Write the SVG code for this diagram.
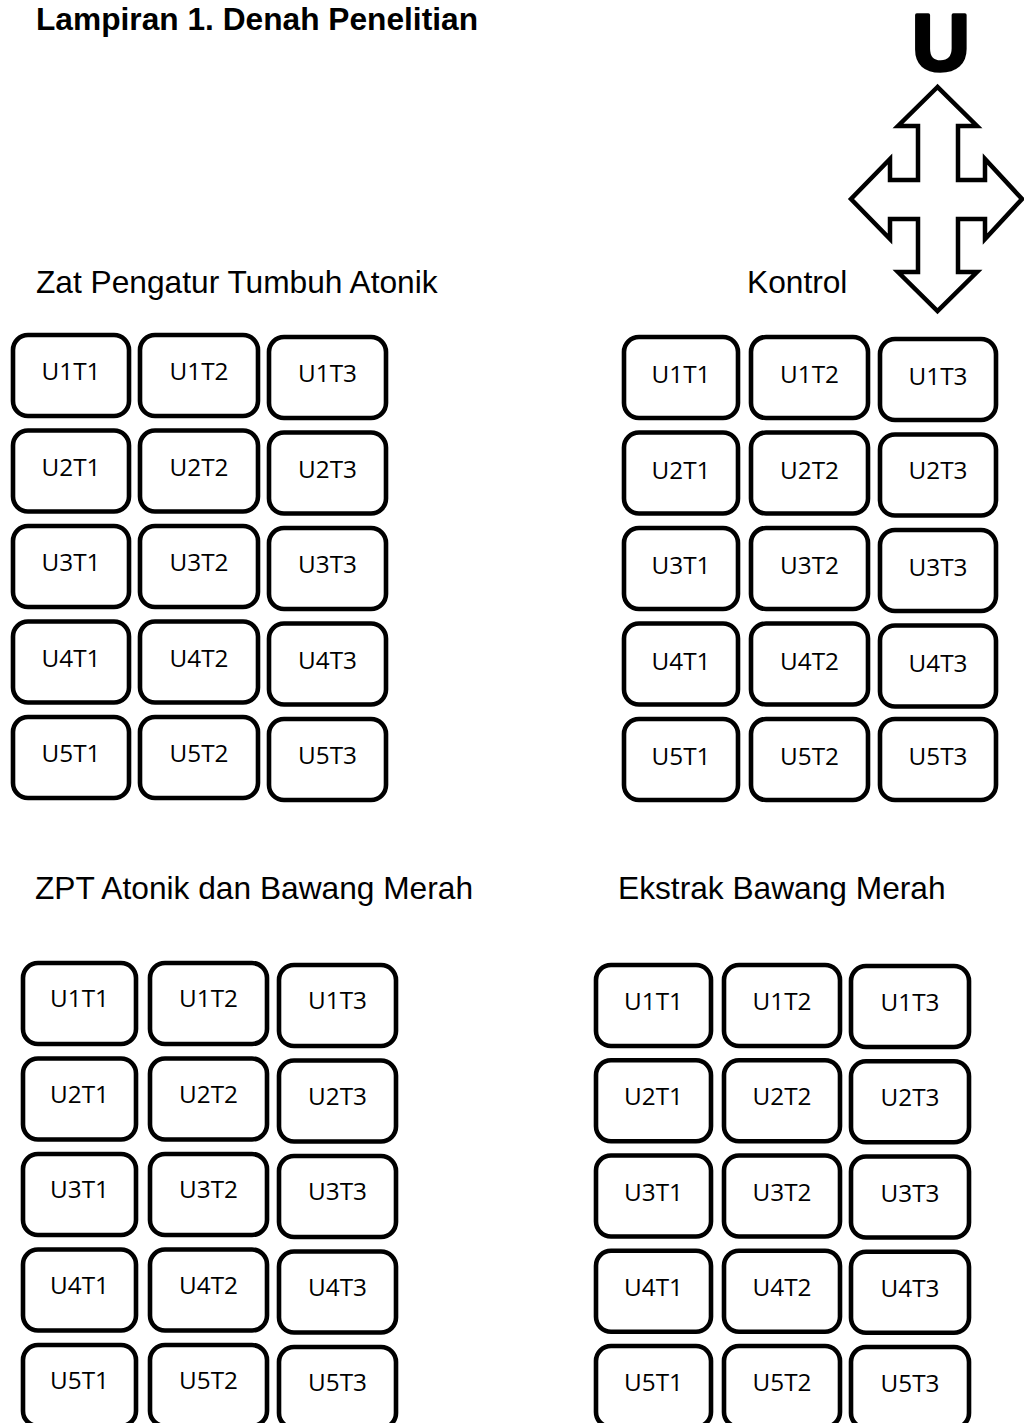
<svg xmlns="http://www.w3.org/2000/svg" width="1024" height="1423" viewBox="0 0 1024 1423">
<style>
.box{fill:#fff;stroke:#000;stroke-width:4.6}
.lbl{font-family:"Open Sans","Noto Sans",sans-serif;font-size:24.3px;fill:#000;text-anchor:middle}
.hd{font-family:"Liberation Sans",Arial,sans-serif;font-size:31.7px;fill:#000}
.ttl{font-family:"Liberation Sans",Arial,sans-serif;font-size:31.7px;font-weight:bold;fill:#000}
</style>
<rect width="1024" height="1423" fill="#fff"/>
<text class="ttl" x="36" y="30">Lampiran 1. Denah Penelitian</text>
<g id="compass">
<text x="941" y="70" text-anchor="middle" style="font-family:'Liberation Sans',Arial,sans-serif;font-weight:bold;font-size:80px;fill:#000;stroke:#000;stroke-width:3.5;stroke-linejoin:round">U</text>
<polygon points="937.5,87 898,126 918,126 918,180 890,180 890,159 851,199 890,239 890,219 918,219 918,272 898,272 937.5,311 977,272 958,272 958,219 985,219 985,239 1022,199 985,159 985,180 958,180 958,126 977,126" fill="#fff" stroke="#000" stroke-width="4.5" stroke-linejoin="miter"/>
</g>
<text class="hd" x="36" y="293">Zat Pengatur Tumbuh Atonik</text>
<text class="hd" x="747" y="293">Kontrol</text>
<text class="hd" x="35" y="899">ZPT Atonik dan Bawang Merah</text>
<text class="hd" x="618" y="899">Ekstrak Bawang Merah</text>
<g id="connectors"></g>
<g id="gridA">
<g id="A-U1T1"><rect class="box" x="13" y="335" width="116" height="81" rx="15"/><text class="lbl" x="71" y="380">U1T1</text></g>
<g id="A-U1T2"><rect class="box" x="140" y="335" width="118" height="81" rx="15"/><text class="lbl" x="199" y="380">U1T2</text></g>
<g id="A-U1T3"><rect class="box" x="269" y="337" width="117" height="81" rx="15"/><text class="lbl" x="327.5" y="382">U1T3</text></g>
<g id="A-U2T1"><rect class="box" x="13" y="430.5" width="116" height="81" rx="15"/><text class="lbl" x="71" y="475.5">U2T1</text></g>
<g id="A-U2T2"><rect class="box" x="140" y="430.5" width="118" height="81" rx="15"/><text class="lbl" x="199" y="475.5">U2T2</text></g>
<g id="A-U2T3"><rect class="box" x="269" y="432.5" width="117" height="81" rx="15"/><text class="lbl" x="327.5" y="477.5">U2T3</text></g>
<g id="A-U3T1"><rect class="box" x="13" y="526" width="116" height="81" rx="15"/><text class="lbl" x="71" y="571">U3T1</text></g>
<g id="A-U3T2"><rect class="box" x="140" y="526" width="118" height="81" rx="15"/><text class="lbl" x="199" y="571">U3T2</text></g>
<g id="A-U3T3"><rect class="box" x="269" y="528" width="117" height="81" rx="15"/><text class="lbl" x="327.5" y="573">U3T3</text></g>
<g id="A-U4T1"><rect class="box" x="13" y="621.5" width="116" height="81" rx="15"/><text class="lbl" x="71" y="666.5">U4T1</text></g>
<g id="A-U4T2"><rect class="box" x="140" y="621.5" width="118" height="81" rx="15"/><text class="lbl" x="199" y="666.5">U4T2</text></g>
<g id="A-U4T3"><rect class="box" x="269" y="623.5" width="117" height="81" rx="15"/><text class="lbl" x="327.5" y="668.5">U4T3</text></g>
<g id="A-U5T1"><rect class="box" x="13" y="717" width="116" height="81" rx="15"/><text class="lbl" x="71" y="762">U5T1</text></g>
<g id="A-U5T2"><rect class="box" x="140" y="717" width="118" height="81" rx="15"/><text class="lbl" x="199" y="762">U5T2</text></g>
<g id="A-U5T3"><rect class="box" x="269" y="719" width="117" height="81" rx="15"/><text class="lbl" x="327.5" y="764">U5T3</text></g>
</g>
<g id="gridB">
<g id="B-U1T1"><rect class="box" x="624" y="337" width="114" height="81" rx="15"/><text class="lbl" x="681" y="383">U1T1</text></g>
<g id="B-U1T2"><rect class="box" x="751" y="337" width="117" height="81" rx="15"/><text class="lbl" x="809.5" y="383">U1T2</text></g>
<g id="B-U1T3"><rect class="box" x="880" y="339" width="116" height="81" rx="15"/><text class="lbl" x="938" y="385">U1T3</text></g>
<g id="B-U2T1"><rect class="box" x="624" y="432.5" width="114" height="81" rx="15"/><text class="lbl" x="681" y="478.5">U2T1</text></g>
<g id="B-U2T2"><rect class="box" x="751" y="432.5" width="117" height="81" rx="15"/><text class="lbl" x="809.5" y="478.5">U2T2</text></g>
<g id="B-U2T3"><rect class="box" x="880" y="434.5" width="116" height="81" rx="15"/><text class="lbl" x="938" y="478.5">U2T3</text></g>
<g id="B-U3T1"><rect class="box" x="624" y="528" width="114" height="81" rx="15"/><text class="lbl" x="681" y="574">U3T1</text></g>
<g id="B-U3T2"><rect class="box" x="751" y="528" width="117" height="81" rx="15"/><text class="lbl" x="809.5" y="574">U3T2</text></g>
<g id="B-U3T3"><rect class="box" x="880" y="530" width="116" height="81" rx="15"/><text class="lbl" x="938" y="576">U3T3</text></g>
<g id="B-U4T1"><rect class="box" x="624" y="623.5" width="114" height="81" rx="15"/><text class="lbl" x="681" y="669.5">U4T1</text></g>
<g id="B-U4T2"><rect class="box" x="751" y="623.5" width="117" height="81" rx="15"/><text class="lbl" x="809.5" y="669.5">U4T2</text></g>
<g id="B-U4T3"><rect class="box" x="880" y="625.5" width="116" height="81" rx="15"/><text class="lbl" x="938" y="671.5">U4T3</text></g>
<g id="B-U5T1"><rect class="box" x="624" y="719" width="114" height="81" rx="15"/><text class="lbl" x="681" y="765">U5T1</text></g>
<g id="B-U5T2"><rect class="box" x="751" y="719" width="117" height="81" rx="15"/><text class="lbl" x="809.5" y="765">U5T2</text></g>
<g id="B-U5T3"><rect class="box" x="880" y="719" width="116" height="81" rx="15"/><text class="lbl" x="938" y="765">U5T3</text></g>
</g>
<g id="gridC">
<g id="C-U1T1"><rect class="box" x="23" y="963" width="113" height="81" rx="15"/><text class="lbl" x="79.5" y="1007">U1T1</text></g>
<g id="C-U1T2"><rect class="box" x="150" y="963" width="117" height="81" rx="15"/><text class="lbl" x="208.5" y="1007">U1T2</text></g>
<g id="C-U1T3"><rect class="box" x="279" y="965" width="117" height="81" rx="15"/><text class="lbl" x="337.5" y="1009">U1T3</text></g>
<g id="C-U2T1"><rect class="box" x="23" y="1058.5" width="113" height="81" rx="15"/><text class="lbl" x="79.5" y="1102.5">U2T1</text></g>
<g id="C-U2T2"><rect class="box" x="150" y="1058.5" width="117" height="81" rx="15"/><text class="lbl" x="208.5" y="1102.5">U2T2</text></g>
<g id="C-U2T3"><rect class="box" x="279" y="1060.5" width="117" height="81" rx="15"/><text class="lbl" x="337.5" y="1104.5">U2T3</text></g>
<g id="C-U3T1"><rect class="box" x="23" y="1154" width="113" height="81" rx="15"/><text class="lbl" x="79.5" y="1198">U3T1</text></g>
<g id="C-U3T2"><rect class="box" x="150" y="1154" width="117" height="81" rx="15"/><text class="lbl" x="208.5" y="1198">U3T2</text></g>
<g id="C-U3T3"><rect class="box" x="279" y="1156" width="117" height="81" rx="15"/><text class="lbl" x="337.5" y="1200">U3T3</text></g>
<g id="C-U4T1"><rect class="box" x="23" y="1249.5" width="113" height="81" rx="15"/><text class="lbl" x="79.5" y="1293.5">U4T1</text></g>
<g id="C-U4T2"><rect class="box" x="150" y="1249.5" width="117" height="81" rx="15"/><text class="lbl" x="208.5" y="1293.5">U4T2</text></g>
<g id="C-U4T3"><rect class="box" x="279" y="1251.5" width="117" height="81" rx="15"/><text class="lbl" x="337.5" y="1295.5">U4T3</text></g>
<g id="C-U5T1"><rect class="box" x="23" y="1345" width="113" height="81" rx="15"/><text class="lbl" x="79.5" y="1389">U5T1</text></g>
<g id="C-U5T2"><rect class="box" x="150" y="1345" width="117" height="81" rx="15"/><text class="lbl" x="208.5" y="1389">U5T2</text></g>
<g id="C-U5T3"><rect class="box" x="279" y="1347" width="117" height="81" rx="15"/><text class="lbl" x="337.5" y="1391">U5T3</text></g>
</g>
<g id="gridD">
<g id="D-U1T1"><rect class="box" x="596" y="965" width="115" height="81" rx="15"/><text class="lbl" x="653.5" y="1010">U1T1</text></g>
<g id="D-U1T2"><rect class="box" x="724" y="965" width="116" height="81" rx="15"/><text class="lbl" x="782" y="1010">U1T2</text></g>
<g id="D-U1T3"><rect class="box" x="851" y="966" width="118" height="81" rx="15"/><text class="lbl" x="910" y="1011">U1T3</text></g>
<g id="D-U2T1"><rect class="box" x="596" y="1060.25" width="115" height="81" rx="15"/><text class="lbl" x="653.5" y="1105.25">U2T1</text></g>
<g id="D-U2T2"><rect class="box" x="724" y="1060.25" width="116" height="81" rx="15"/><text class="lbl" x="782" y="1105.25">U2T2</text></g>
<g id="D-U2T3"><rect class="box" x="851" y="1061.25" width="118" height="81" rx="15"/><text class="lbl" x="910" y="1106.25">U2T3</text></g>
<g id="D-U3T1"><rect class="box" x="596" y="1155.5" width="115" height="81" rx="15"/><text class="lbl" x="653.5" y="1200.5">U3T1</text></g>
<g id="D-U3T2"><rect class="box" x="724" y="1155.5" width="116" height="81" rx="15"/><text class="lbl" x="782" y="1200.5">U3T2</text></g>
<g id="D-U3T3"><rect class="box" x="851" y="1156.5" width="118" height="81" rx="15"/><text class="lbl" x="910" y="1201.5">U3T3</text></g>
<g id="D-U4T1"><rect class="box" x="596" y="1250.75" width="115" height="81" rx="15"/><text class="lbl" x="653.5" y="1295.75">U4T1</text></g>
<g id="D-U4T2"><rect class="box" x="724" y="1250.75" width="116" height="81" rx="15"/><text class="lbl" x="782" y="1295.75">U4T2</text></g>
<g id="D-U4T3"><rect class="box" x="851" y="1251.75" width="118" height="81" rx="15"/><text class="lbl" x="910" y="1296.75">U4T3</text></g>
<g id="D-U5T1"><rect class="box" x="596" y="1346" width="115" height="81" rx="15"/><text class="lbl" x="653.5" y="1391">U5T1</text></g>
<g id="D-U5T2"><rect class="box" x="724" y="1346" width="116" height="81" rx="15"/><text class="lbl" x="782" y="1391">U5T2</text></g>
<g id="D-U5T3"><rect class="box" x="851" y="1347" width="118" height="81" rx="15"/><text class="lbl" x="910" y="1392">U5T3</text></g>
</g>
</svg>
